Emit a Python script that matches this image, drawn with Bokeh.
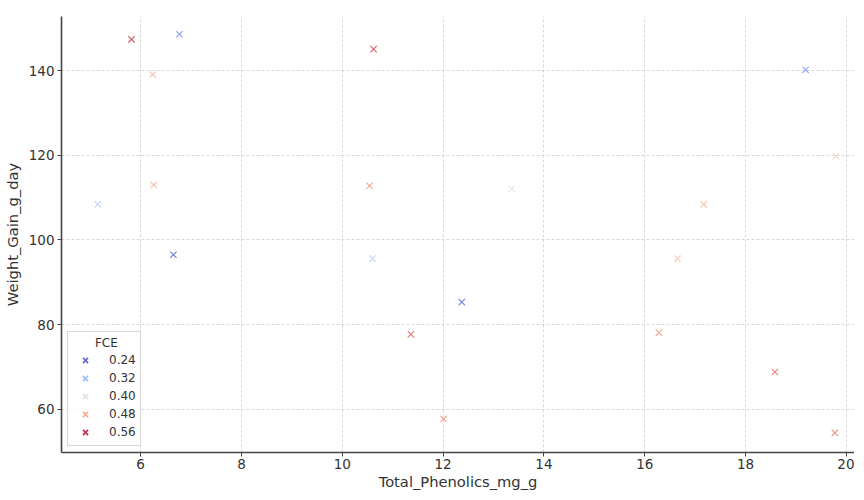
import numpy as np
from bokeh.plotting import figure
from bokeh.models import ColumnDataSource, LinearColorMapper, SingleIntervalTicker, Legend, LegendItem
from bokeh.transform import transform
from bokeh.embed import file_html
from bokeh.resources import INLINE

# ---- data ----
total_phenolics = [5.82, 6.77, 6.24, 6.26, 5.15, 6.65, 10.62, 10.54, 10.60, 11.36,
                   12.37, 12.01, 13.36, 19.19, 19.79, 17.17, 16.65, 16.28, 18.58, 19.77]
weight_gain = [147.4, 148.6, 139.1, 113.0, 108.4, 96.5, 145.1, 112.8, 95.6, 77.7,
               85.3, 57.7, 112.1, 140.2, 119.8, 108.4, 95.6, 78.1, 68.8, 54.4]
fce = [0.55, 0.28, 0.46, 0.46, 0.35, 0.24, 0.54, 0.49, 0.35, 0.52,
       0.25, 0.49, 0.40, 0.29, 0.42, 0.46, 0.44, 0.49, 0.52, 0.51]
legend_levels = [0.24, 0.32, 0.40, 0.48, 0.56]
legend_labels = ["0.24", "0.32", "0.40", "0.48", "0.56"]

# ---- coolwarm-like palette ----
anchors_pos = [0.0, 0.125, 0.25, 0.375, 0.5, 0.625, 0.75, 0.875, 1.0]
anchors_rgb = [(0.2298, 0.2987, 0.7537), (0.3844, 0.5097, 0.9170), (0.5543, 0.6900, 0.9955),
               (0.7222, 0.8164, 0.9763), (0.8674, 0.8644, 0.8626), (0.9537, 0.7558, 0.6558),
               (0.9567, 0.5980, 0.4773), (0.8734, 0.3559, 0.2843), (0.7057, 0.0156, 0.1502)]
def cmap(t):
    t = min(max(t, 0.0), 1.0)
    r = np.interp(t, anchors_pos, [c[0] for c in anchors_rgb])
    g = np.interp(t, anchors_pos, [c[1] for c in anchors_rgb])
    b = np.interp(t, anchors_pos, [c[2] for c in anchors_rgb])
    return "#%02x%02x%02x" % (int(r * 255), int(g * 255), int(b * 255))
palette = [cmap(i / 255) for i in range(256)]
lo, hi = 0.24, 0.56
mapper = LinearColorMapper(palette=palette, low=lo, high=hi)

src = ColumnDataSource(dict(x=total_phenolics, y=weight_gain, fce=fce))

p = figure(frame_width=793, frame_height=436, output_backend="svg", toolbar_location=None,
           x_range=(4.43, 20.16), y_range=(49.77, 152.8),
           min_border_top=16, min_border_right=0, min_border_left=55, min_border_bottom=0)
p.outline_line_color = None
p.background_fill_color = "white"

p.scatter("x", "y", source=src, marker="x", size=9, line_width=1.1,
          line_color=transform("fce", mapper), line_alpha=0.75)

items = []
for lev, lab in zip(legend_levels, legend_labels):
    r = p.scatter(x=[np.nan], y=[np.nan], marker="x", size=9, line_width=1.8,
                  line_color=cmap((lev - lo) / (hi - lo)), line_alpha=0.8)
    items.append(LegendItem(label=lab, renderers=[r]))

legend = Legend(items=items, location="bottom_left",
                title="\u00a0\u00a0\u00a0\u00a0\u00a0\u00a0FCE",
                label_text_font="DejaVu Sans", label_text_font_size="12px",
                label_text_color="#333333",
                title_text_font="DejaVu Sans", title_text_font_size="12px",
                title_text_font_style="normal", title_text_color="#333333",
                title_standoff=1,
                border_line_color="#cccccc", border_line_alpha=0.8,
                background_fill_alpha=0.8, margin=6, padding=4, spacing=0,
                glyph_width=26, glyph_height=18, label_standoff=11,
                label_height=18)
p.add_layout(legend)

for ax in (p.xaxis, p.yaxis):
    ax.axis_line_color = "#444444"
    ax.axis_line_width = 1.6
    ax.major_tick_line_color = "#444444"
    ax.major_tick_out = 4
    ax.major_tick_in = 0
    ax.minor_tick_line_color = None
    ax.major_label_text_font = "DejaVu Sans"
    ax.major_label_text_font_size = "13.5px"
    ax.major_label_text_color = "#333333"
    ax.axis_label_text_font = "DejaVu Sans"
    ax.axis_label_text_font_size = "14.7px"
    ax.axis_label_text_font_style = "normal"
    ax.axis_label_text_color = "#333333"

p.xaxis.ticker = SingleIntervalTicker(interval=2)
p.yaxis.ticker = SingleIntervalTicker(interval=20)
p.xaxis.axis_label = "Total_Phenolics_mg_g"
p.yaxis.axis_label = "Weight_Gain_g_day"
p.xaxis.major_label_standoff = 2
p.xaxis.axis_label_standoff = 1
p.yaxis.major_label_standoff = 3
p.yaxis.axis_label_standoff = 5

p.grid.grid_line_color = "#cfcfcf"
p.grid.grid_line_dash = "3 2"
p.grid.grid_line_width = 0.8

open("out.html", "w").write(file_html(p, INLINE))
